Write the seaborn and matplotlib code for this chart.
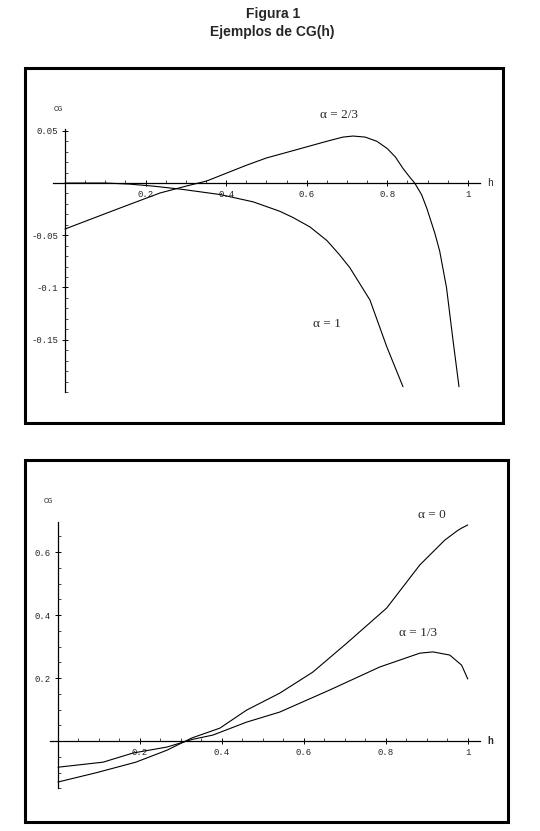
import matplotlib as mpl
mpl.use('agg')
import matplotlib.pyplot as plt
from matplotlib.patches import Rectangle
from matplotlib.ticker import FixedLocator, FuncFormatter
import numpy as np
import pandas as pd
import seaborn as sns

# Curve values
h_a23 = [0.0, 0.136, 0.236, 0.30, 0.352, 0.45, 0.50, 0.566, 0.65, 0.69, 0.715, 0.745, 0.774, 0.80, 0.82, 0.839, 0.855, 0.868, 0.885, 0.898, 0.918, 0.93, 0.947, 0.963, 0.978]
cg_a23 = [-0.044, -0.024, -0.0095, -0.003, 0.002, 0.017, 0.024, 0.031, 0.040, 0.044, 0.045, 0.044, 0.040, 0.033, 0.025, 0.014, 0.006, 0.0, -0.011, -0.024, -0.048, -0.065, -0.100, -0.150, -0.195]

h_a1 = [0.0, 0.10, 0.16, 0.22, 0.29, 0.385, 0.467, 0.533, 0.566, 0.608, 0.65, 0.68, 0.707, 0.757, 0.799, 0.839]
cg_a1 = [0.0, 0.0, -0.001, -0.003, -0.006, -0.011, -0.018, -0.027, -0.033, -0.042, -0.055, -0.068, -0.081, -0.112, -0.157, -0.195]

h_a0 = [0.0, 0.095, 0.19, 0.266, 0.327, 0.395, 0.46, 0.541, 0.622, 0.705, 0.802, 0.883, 0.944, 0.975, 0.985, 1.0]
cg_a0 = [-0.13, -0.10, -0.067, -0.029, 0.01, 0.041, 0.098, 0.152, 0.219, 0.311, 0.422, 0.559, 0.638, 0.668, 0.676, 0.686]

h_a13 = [0.0, 0.11, 0.183, 0.266, 0.327, 0.378, 0.46, 0.541, 0.663, 0.785, 0.883, 0.915, 0.956, 0.985, 1.0]
cg_a13 = [-0.083, -0.067, -0.038, -0.019, 0.005, 0.019, 0.06, 0.092, 0.162, 0.235, 0.279, 0.283, 0.273, 0.241, 0.197]

x_ticks = [0.2, 0.4, 0.6, 0.8, 1.0]
y_ticks_top = [0.05, -0.05, -0.1, -0.15]
y_ticks_bot = [0.2, 0.4, 0.6]

title_lines = ["Figura 1", "Ejemplos de CG(h)"]

sns.set_style("white")
plt.rcParams['font.family'] = ['Liberation Sans', 'DejaVu Sans']
plt.rcParams['axes.unicode_minus'] = False

fig = plt.figure(figsize=(5.4, 8.31), dpi=100)
fig.patch.set_facecolor('white')

fig.text(0.505, 0.983, title_lines[0], ha='center', va='center', fontsize=10, fontweight='bold')
fig.text(0.505, 0.961, title_lines[1], ha='center', va='center', fontsize=10, fontweight='bold')

fmt = FuncFormatter(lambda v, p: f"{v:g}")


def minor_ticks(lo, hi, step):
    # minor ticks only inside the drawn axis line
    n0 = int(np.ceil(lo / step - 1e-9))
    n1 = int(np.floor(hi / step + 1e-9))
    return [round(i * step, 6) for i in range(n0, n1 + 1) if i != 0]


def setup_panel(ax, xlim, ylim, xbounds, ybounds, yticks, yminor, xminor):
    ax.set_xlim(*xlim)
    ax.set_ylim(*ylim)
    for s in ['top', 'right']:
        ax.spines[s].set_visible(False)
    ax.spines['left'].set_position(('data', 0))
    ax.spines['bottom'].set_position(('data', 0))
    ax.spines['left'].set_bounds(*ybounds)
    ax.spines['bottom'].set_bounds(*xbounds)
    for s in ['left', 'bottom']:
        ax.spines[s].set_linewidth(0.9)
        ax.spines[s].set_color('black')
    ax.xaxis.set_major_locator(FixedLocator(x_ticks))
    ax.yaxis.set_major_locator(FixedLocator(yticks))
    ax.xaxis.set_minor_locator(FixedLocator(minor_ticks(0, xbounds[1], xminor)))
    ax.yaxis.set_minor_locator(FixedLocator(minor_ticks(ybounds[0], ybounds[1], yminor)))
    ax.xaxis.set_major_formatter(fmt)
    ax.yaxis.set_major_formatter(fmt)
    ax.tick_params(which='major', direction='inout', length=4, width=0.7, color='black',
                   labelsize=6.5, pad=3, bottom=True, left=True)
    ax.tick_params(which='minor', direction='in', length=2, width=0.5, color='black',
                   bottom=True, left=True)
    for lab in ax.get_xticklabels() + ax.get_yticklabels():
        lab.set_family('Liberation Mono')
    ax.set_xlabel('')
    ax.set_ylabel('')
    ax.add_patch(Rectangle((0, 0), 1, 1, transform=ax.transAxes, fill=False,
                           lw=2.2, edgecolor='black', clip_on=False))


# Top panel
ax1 = fig.add_axes([0.0463, 0.491, 0.885, 0.427])
for hh, cc in [(h_a23, cg_a23), (h_a1, cg_a1)]:
    sns.lineplot(data=pd.DataFrame({'h': hh, 'CG': cc}), x='h', y='CG', ax=ax1,
                 color='black', lw=0.8, sort=False, estimator=None)
setup_panel(ax1, (-0.0993, 1.087), (-0.2297, 0.110), (-0.03, 1.03), (-0.2, 0.052),
            y_ticks_top, 0.01, 0.05)
ax1.text(-0.017, 0.07, 'CG', fontsize=5.5, family='Liberation Mono', ha='center', va='center')
ax1.text(1.055, 0.0, 'h', fontsize=7, family='Liberation Mono', ha='center', va='center')
ax1.text(0.68, 0.065, 'α = 2/3', fontsize=9.5, family='Liberation Serif', ha='center', va='center')
ax1.text(0.65, -0.135, 'α = 1', fontsize=9.5, family='Liberation Serif', ha='center', va='center')

# Bottom panel
ax2 = fig.add_axes([0.0463, 0.0108, 0.894, 0.4356])
for hh, cc in [(h_a0, cg_a0), (h_a13, cg_a13)]:
    sns.lineplot(data=pd.DataFrame({'h': hh, 'CG': cc}), x='h', y='CG', ax=ax2,
                 color='black', lw=0.8, sort=False, estimator=None)
setup_panel(ax2, (-0.0805, 1.0976), (-0.257, 0.892), (-0.02, 1.03), (-0.15, 0.695),
            y_ticks_bot, 0.05, 0.05)
ax2.text(-0.024, 0.76, 'CG', fontsize=5.5, family='Liberation Mono', ha='center', va='center')
ax2.text(1.055, 0.0, 'h', fontsize=7, family='Liberation Mono', fontweight='bold', ha='center', va='center')
ax2.text(0.912, 0.717, 'α = 0', fontsize=9.5, family='Liberation Serif', ha='center', va='center')
ax2.text(0.878, 0.343, 'α = 1/3', fontsize=9.5, family='Liberation Serif', ha='center', va='center')

plt.savefig("out.png", dpi=100, facecolor='white')
